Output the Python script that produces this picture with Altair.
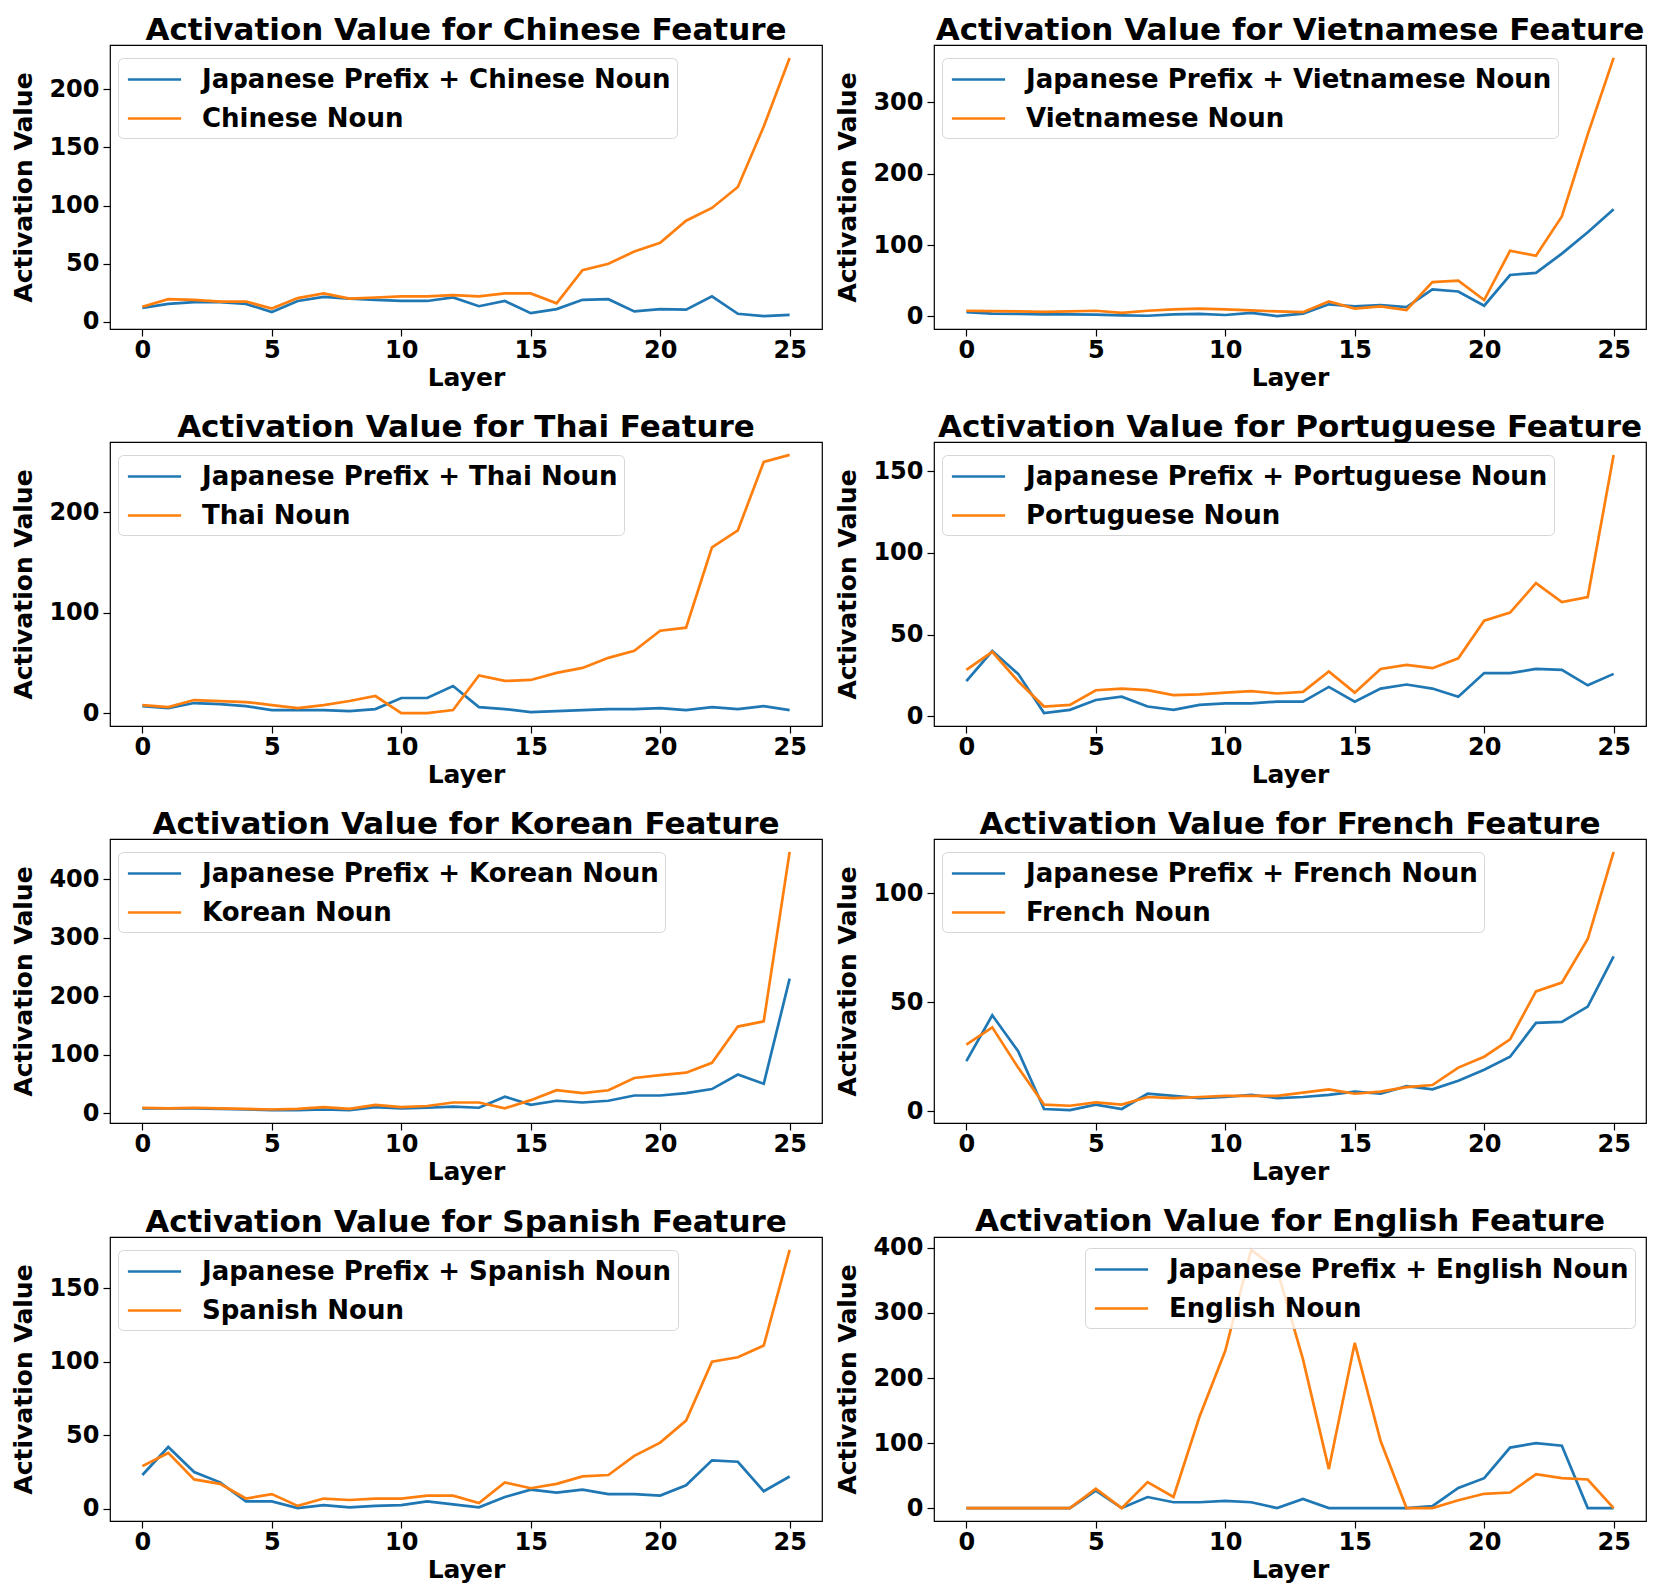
import altair as alt
import pandas as pd

layers = list(range(26))

chinese_prefix = [12, 15.5, 17, 17, 15.5, 8.5, 18, 21.5, 20, 19, 18, 18, 21, 13.5, 18, 7.5, 11, 19, 19.5, 9, 11, 10.5, 22, 7, 5, 6]
chinese_noun = [13, 19.5, 19, 17.5, 17.5, 11.5, 20.5, 24.5, 20, 21, 22, 22, 23, 22, 24.5, 24.5, 16, 44.5, 50, 60.5, 68, 87, 98, 116, 168, 227]

vietnamese_prefix = [6, 4, 3.5, 3, 3, 2.5, 1.5, 1, 3, 3.5, 2, 5, 0.5, 4, 17, 14, 16, 13, 38, 35, 15, 58, 61, 88, 118, 150]
vietnamese_noun = [8, 7.5, 7, 6.5, 7, 8, 5, 8, 10, 11, 10, 8.5, 7, 6, 21, 11, 14, 9, 48, 50, 23, 92, 85, 140, 255, 362]

thai_prefix = [7, 5, 10, 9, 7, 3, 3, 3, 2, 4, 15, 15, 27, 6, 4, 1, 2, 3, 4, 4, 5, 3, 6, 4, 7, 3]
thai_noun = [8, 6, 13, 12, 11, 8, 5, 8, 12, 17, 0, 0, 3, 37.5, 32, 33, 40, 45, 55, 62, 82, 85, 165, 182, 250, 257]

portuguese_prefix = [21.5, 40, 26, 2, 4, 10, 12, 6, 4, 7, 8, 8, 9, 9, 18, 9, 17, 19.5, 17, 12, 26.5, 26.5, 29, 28.5, 19, 26]
portuguese_noun = [28.5, 39.5, 21.5, 6, 7, 16, 17, 16, 13, 13.5, 14.5, 15.5, 14, 15, 27.5, 14.5, 29, 31.5, 29.5, 35.5, 58.5, 63.5, 81.5, 70, 73, 160]

korean_prefix = [8, 8, 8, 7, 6, 5, 5, 6, 5, 10, 8, 9, 11, 9, 28, 14, 21, 18, 21, 30, 30, 34, 41, 66, 50, 230]
korean_noun = [9, 8, 9, 8, 7, 6, 7, 10, 7, 14, 10, 12, 18, 18, 8, 22, 39, 34, 39, 60, 65, 69, 86, 148, 157, 447]

french_prefix = [23, 44, 27.5, 1, 0.5, 3, 1, 8, 7, 6, 6.5, 7.5, 6, 6.5, 7.5, 9, 8, 11.5, 10, 14, 19, 25, 40.5, 41, 48, 71]
french_noun = [30.5, 38.5, 20, 3, 2.5, 4, 3, 6.5, 6, 6.5, 7, 7, 7, 8.5, 10, 8, 9, 11, 12, 20, 25, 33, 55, 59, 79, 119]

spanish_prefix = [23, 42, 25, 18, 5, 5, 0.5, 2.5, 1, 2, 2.5, 5, 3, 1, 8, 13, 11, 13, 10, 10, 9, 16, 33, 32, 12, 22]
spanish_noun = [29, 38, 20, 17, 7, 10, 2, 7, 6, 7, 7, 9, 9, 4, 18, 14, 17, 22, 23, 36, 45, 60, 100, 103, 111, 176]

english_prefix = [0, 0, 0, 0, 0, 27, 0, 17, 9, 9, 11, 9, 0, 14, 0, 0, 0, 0, 3, 31, 46, 93, 100, 96, 0, 0]
english_noun = [0, 0, 0, 0, 0, 30, 0, 40, 17, 140, 242, 397, 367, 229, 60, 254, 103, 0, 0, 12, 22, 24, 52, 46, 44, 0]

panels = [
    ("Chinese", chinese_prefix, chinese_noun, [0, 50, 100, 150, 200], "left"),
    ("Vietnamese", vietnamese_prefix, vietnamese_noun, [0, 100, 200, 300], "left"),
    ("Thai", thai_prefix, thai_noun, [0, 100, 200], "left"),
    ("Portuguese", portuguese_prefix, portuguese_noun, [0, 50, 100, 150], "left"),
    ("Korean", korean_prefix, korean_noun, [0, 100, 200, 300, 400], "left"),
    ("French", french_prefix, french_noun, [0, 50, 100], "left"),
    ("Spanish", spanish_prefix, spanish_noun, [0, 50, 100, 150], "left"),
    ("English", english_prefix, english_noun, [0, 100, 200, 300, 400], "right"),
]

FONT = "DejaVu Sans"
BLUE = "#1f77b4"
ORANGE = "#ff7f0e"


def make_panel(lang, prefix, noun, yticks, side):
    lab1 = f"Japanese Prefix + {lang} Noun"
    lab2 = f"{lang} Noun"
    df = pd.DataFrame({
        "Layer": layers + layers,
        "Value": prefix + noun,
        "Series": [lab1] * len(layers) + [lab2] * len(layers),
    })
    vals = prefix + noun
    lo, hi = min(vals), max(vals)
    m = 0.05 * (hi - lo)
    common = dict(title=None, padding=6, fillColor="rgba(255,255,255,0.8)",
                  strokeColor="#d6d6d6", cornerRadius=5,
                  symbolType="M-1.9,0H1.9", symbolSize=784,
                  symbolStrokeWidth=2.7, symbolOffset=15,
                  labelFont=FONT, labelFontSize=26,
                  labelFontWeight="bold", labelColor="black",
                  labelOffset=32, rowPadding=10, labelLimit=1000)
    if side == "left":
        legend = alt.Legend(orient="none", legendX=8, legendY=13, **common)
    else:
        legend = alt.Legend(orient="top-right", offset=11, **common)
    return alt.Chart(df).mark_line(strokeWidth=2.7).encode(
        x=alt.X("Layer:Q",
                scale=alt.Scale(domain=[-1.25, 26.25], nice=False, zero=False),
                axis=alt.Axis(values=[0, 5, 10, 15, 20, 25], title="Layer", format="d",
                              labelPadding=2, titlePadding=3)),
        y=alt.Y("Value:Q",
                scale=alt.Scale(domain=[lo - m, hi + m], nice=False, zero=False),
                axis=alt.Axis(values=yticks, title="Activation Value", format="d",
                              labelPadding=4, titlePadding=12)),
        color=alt.Color("Series:N",
                        scale=alt.Scale(domain=[lab1, lab2], range=[BLUE, ORANGE]),
                        legend=legend),
    ).properties(width=712, height=284, title=f"Activation Value for {lang} Feature")


charts = [make_panel(*p) for p in panels]

chart = alt.concat(*charts, columns=2, spacing={"row": 20, "column": 12}).resolve_scale(
    color="independent", x="independent", y="independent"
).resolve_legend(color="independent").configure(
    background="white", padding={"left": 3, "top": 6, "right": 5, "bottom": 5}
).configure_view(
    stroke="black", strokeWidth=1.2
).configure_axis(
    grid=False, domain=False, tickColor="black", tickSize=7, tickWidth=1.2,
    labelFont=FONT, labelFontSize=24, labelFontWeight="bold", labelColor="black",
    titleFont=FONT, titleFontSize=25, titleFontWeight="bold", titleColor="black"
).configure_title(
    font=FONT, fontSize=31, fontWeight="bold", color="black", offset=-2, anchor="middle"
)

chart.save("out.html", embed_options={"renderer": "svg", "actions": False})
